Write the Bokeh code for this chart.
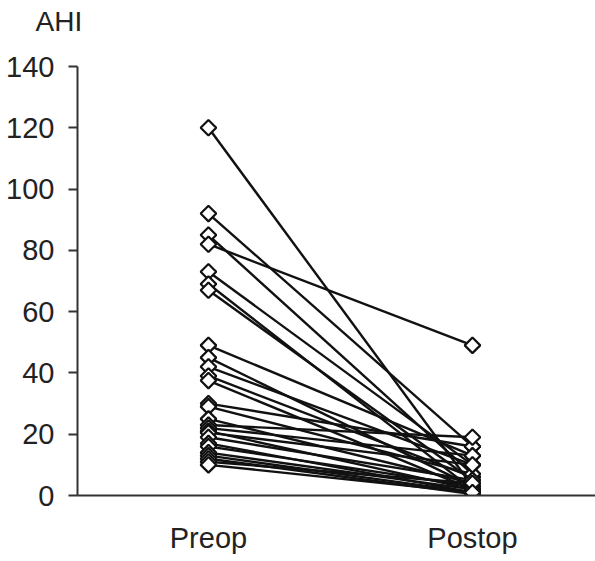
from bokeh.plotting import figure
from bokeh.models import Range1d, FixedTicker, Title
from bokeh.embed import file_html
from bokeh.resources import INLINE

# Data
groups = ["Preop", "Postop"]
preop = [120, 92, 85, 82, 73, 69, 67, 49, 45, 42, 39, 37.5, 30, 29, 25, 23,
         22, 21, 20.5, 19, 17, 16, 14, 13, 12, 11, 10]
postop = [3, 16, 7, 49, 10, 2, 5, 13, 3, 10, 6, 2, 16, 7, 4, 19,
          13, 2, 10, 5, 1, 3, 2, 1, 0.5, 4, 1]
y_ticks = [0, 20, 40, 60, 80, 100, 120, 140]

FONT = "Liberation Sans"
INK = "#222222"

p = figure(width=595, height=561, output_backend="svg", toolbar_location=None,
           x_range=Range1d(-0.496, 1.466), y_range=Range1d(0, 149.14),
           min_border_left=77, min_border_right=0, min_border_top=38,
           min_border_bottom=66)
p.outline_line_color = None
p.grid.visible = False
p.background_fill_color = "white"

x_pre = [0] * len(preop)
x_post = [1] * len(postop)
p.segment(x0=x_pre, y0=preop, x1=x_post, y1=postop, line_color="#111111",
          line_width=2.4)
p.scatter(x_pre + x_post, preop + postop, marker="square", angle=0.7854,
          size=11, fill_color="white", line_color="#111111", line_width=2.2)

# y axis
ya = p.yaxis[0]
ya.ticker = FixedTicker(ticks=y_ticks)
ya.bounds = (0, 140)
ya.minor_tick_line_color = None
ya.major_tick_in = 0
ya.major_tick_out = 9
ya.major_tick_line_width = 2
ya.major_tick_line_color = "#333333"
ya.axis_line_width = 2
ya.axis_line_color = "#333333"
ya.major_label_text_font = FONT
ya.major_label_text_font_size = "29px"
ya.major_label_text_color = INK
ya.major_label_standoff = 14

# x axis
xa = p.xaxis[0]
xa.ticker = FixedTicker(ticks=[0, 1])
xa.major_label_overrides = {0: groups[0], 1: groups[1]}
xa.minor_tick_line_color = None
xa.major_tick_line_color = None
xa.major_tick_in = 0
xa.major_tick_out = 0
xa.axis_line_width = 2
xa.axis_line_color = "#333333"
xa.major_label_text_font = FONT
xa.major_label_text_font_size = "29px"
xa.major_label_text_color = INK
xa.major_label_standoff = 26

p.add_layout(Title(text="AHI", align="left", offset=-42, standoff=4,
                   text_font=FONT, text_font_size="28px",
                   text_font_style="normal", text_color=INK), "above")

open("out.html", "w").write(file_html(p, INLINE))
